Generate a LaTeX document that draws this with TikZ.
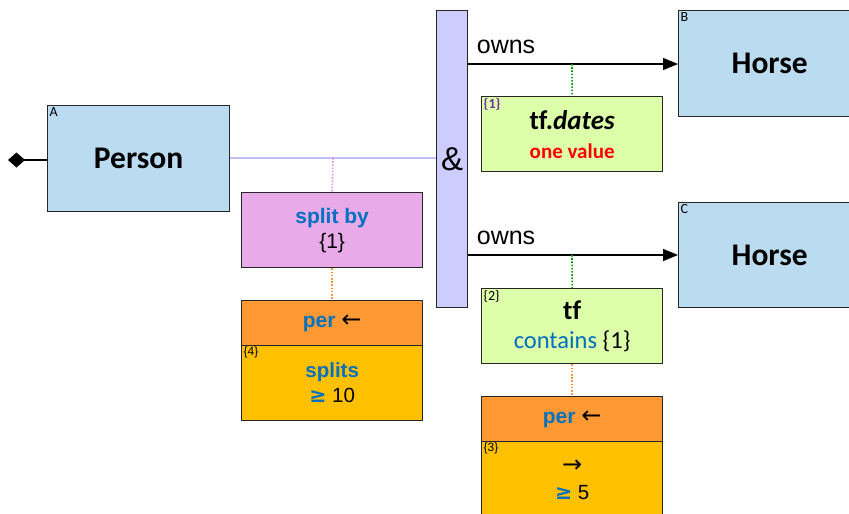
\documentclass[tikz,border=0pt]{standalone}
\usepackage{fontspec}
\setmainfont{Liberation Sans}
\newfontfamily\carl[Ligatures=NoCommon]{Carlito}
\newfontfamily\djv{DejaVu Sans}
\usetikzlibrary{arrows.meta}
\definecolor{entblue}{RGB}{187,219,240}
\definecolor{andfill}{RGB}{204,204,255}
\definecolor{andline}{RGB}{190,190,245}
\definecolor{pinkfill}{RGB}{232,170,232}
\definecolor{greenfill}{RGB}{221,255,170}
\definecolor{orangefill}{RGB}{255,153,51}
\definecolor{yellowfill}{RGB}{255,192,0}
\definecolor{txtblue}{RGB}{0,112,192}
\definecolor{txtpurple}{RGB}{112,48,160}
\definecolor{dotgreen}{RGB}{0,150,0}
\definecolor{dotorange}{RGB}{240,150,60}
\definecolor{dotpink}{RGB}{220,150,230}
\tikzset{
  box/.style={draw=black!85, line width=1.3pt, inner sep=0pt, anchor=north west, align=center},
  corner/.style={anchor=north west, inner xsep=2.5pt, inner ysep=2pt, font=\carl\fontsize{14}{14}\selectfont},
  cornera/.style={anchor=north west, inner xsep=2.5pt, inner ysep=2pt, font=\fontsize{12}{12}\selectfont},
  link/.style={line width=1.3pt, -{Triangle[length=15pt,width=12pt]}},
  dots/.style={line width=1.6pt, dash pattern=on 1.6pt off 1.6pt},
  big/.style={font=\carl\bfseries\fontsize{31.5}{34}\selectfont},
}
\newcommand{\larr}{{\djv\mdseries\fontsize{24}{24}\selectfont ←}}
\begin{document}
\begin{tikzpicture}[x=1pt,y=-1pt]
\useasboundingbox (0,0) rectangle (849,514);
\clip (0,0) rectangle (849,514);
% Person
\node[box, big, fill=entblue, minimum width=182pt, minimum height=106pt] (A) at (47,105) {Person};
\node[corner] (Alab) at (A.north west) {A};
\coordinate (dia) at (8,160);
\draw[line width=1.3pt, {Diamond[length=17pt,width=15pt]}-] (dia) -- (A.west |- dia);
% and bar
\node[box, fill=andfill, minimum width=31pt, minimum height=297pt, font=\fontsize{33}{36}\selectfont] (and) at (436,10) {\&};
\draw[andline, line width=1.3pt] (A.east |- 0,158) -- (and.west |- 0,158);
\coordinate (jA) at (333,158);
% split by
\node[box, fill=pinkfill, minimum width=181pt, minimum height=75pt, font=\fontsize{21}{25}\selectfont] (split) at (241,192) {\textcolor{txtblue}{\bfseries split by}\\{\{1\}}};
\draw[dots, dotpink] (jA) -- (split.north);
% per box left
\node[box, fill=orangefill, minimum width=181pt, minimum height=45pt, font=\bfseries\fontsize{21}{24}\selectfont] (per1) at (241,300) {\textcolor{txtblue}{per} \larr};
\node[box, fill=yellowfill, minimum width=181pt, minimum height=75pt, font=\fontsize{20.5}{25}\selectfont] (spl) at (241,345) {\textcolor{txtblue}{\bfseries splits}\\{\textcolor{txtblue}{\bfseries\djv ≥}} 10};
\node[cornera] (spllab) at (spl.north west) {\{4\}};
\draw[dots, dotorange] (split.south) -- (per1.north);
% Horse B, C
\node[box, big, fill=entblue, minimum width=182pt, minimum height=106pt] (B) at (678,10) {Horse};
\node[corner] (Blab) at (B.north west) {B};
\node[box, big, fill=entblue, minimum width=182pt, minimum height=105pt] (C) at (678,202) {Horse};
\node[corner] (Clab) at (C.north west) {C};
% owns arrows
\draw[link] (and.east |- 0,64) -- node[pos=0.18, above=6pt, font=\fontsize{25}{27}\selectfont] (o1) {owns} (B.west |- 0,64);
\draw[link] (and.east |- 0,255) -- node[pos=0.18, above=6pt, font=\fontsize{25}{27}\selectfont] (o2) {owns} (C.west |- 0,255);
\coordinate (j1) at (572,64);
\coordinate (j2) at (572,255);
% tf.dates
\node[box, fill=greenfill, minimum width=181pt, minimum height=75pt, font=\carl\bfseries\fontsize{27}{30}\selectfont] (tfd) at (481,96) {tf.\textit{dates}\\[-1pt]{\color{red}\fontsize{21}{24}\selectfont one value}};
\node[corner, font=\carl\bfseries\fontsize{14}{14}\selectfont, text=txtpurple] (tfdlab) at (tfd.north west) {\{1\}};
\draw[dots, dotgreen] (j1) -- (tfd.north);
% tf
\node[box, fill=greenfill, minimum width=181pt, minimum height=75pt, font=\carl\fontsize{27}{30}\selectfont] (tf) at (481,288) {\textbf{tf}\\[-1pt]{\fontsize{24.5}{26}\selectfont\textcolor{txtblue}{contains} \{1\}}};
\node[corner] (tflab) at (tf.north west) {\{2\}};
\draw[dots, dotgreen] (j2) -- (tf.north);
% per box right
\node[box, fill=orangefill, minimum width=181pt, minimum height=45pt, font=\bfseries\fontsize{21}{24}\selectfont] (per2) at (481,396) {\textcolor{txtblue}{per} \larr};
\node[box, fill=yellowfill, minimum width=181pt, minimum height=76pt, font=\fontsize{20.5}{25}\selectfont] (fwd) at (481,441) {{\djv\fontsize{24}{24}\selectfont →}\\[2pt]{\textcolor{txtblue}{\bfseries\djv ≥}} 5};
\node[cornera] (fwdlab) at (fwd.north west) {\{3\}};
\draw[dots, dotorange] (tf.south) -- (per2.north);
\end{tikzpicture}
\end{document}
